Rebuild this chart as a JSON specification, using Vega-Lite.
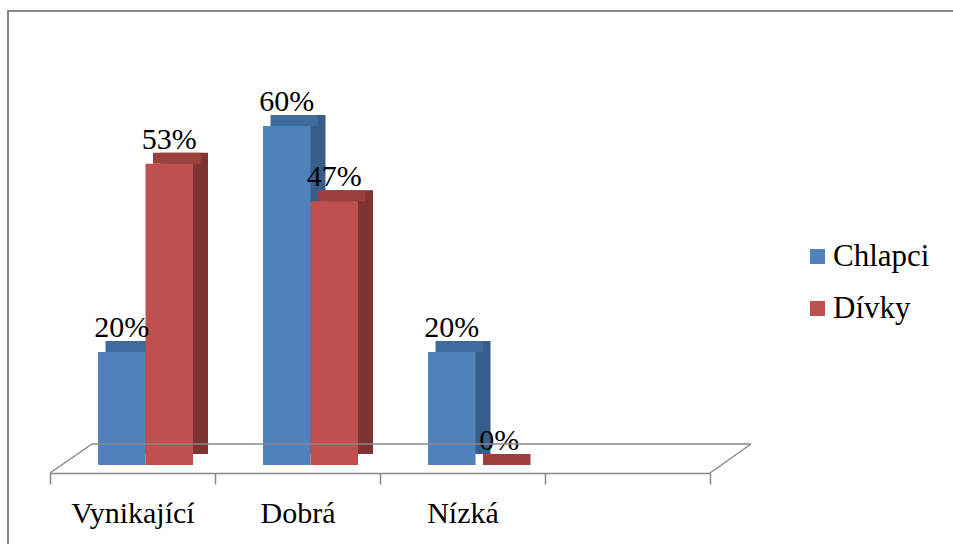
{
  "$schema": "https://vega.github.io/schema/vega-lite/v6.json",
  "width": 950,
  "height": 540,
  "autosize": {"type": "none"},
  "padding": {"left": 8, "top": 11, "right": 0, "bottom": 0},
  "background": "white",
  "config": {
    "view": {"stroke": "#898989", "strokeWidth": 2},
    "axisX": {
      "title": null, "orient": "bottom", "offset": -78, "grid": false,
      "domainColor": "#898989", "domainWidth": 1.5,
      "tickColor": "#898989", "tickWidth": 1.5, "tickSize": 11, "tickBand": "extent",
      "labelFont": "Liberation Serif", "labelFontSize": 30, "labelColor": "black",
      "labelPadding": 14, "labelAngle": 0
    }
  },
  "data": {"values": [
    {"kategorie": "Vynikající", "pohlavi": "Chlapci", "podil": 0.2},
    {"kategorie": "Vynikající", "pohlavi": "Dívky", "podil": 0.533},
    {"kategorie": "Dobrá", "pohlavi": "Chlapci", "podil": 0.6},
    {"kategorie": "Dobrá", "pohlavi": "Dívky", "podil": 0.467},
    {"kategorie": "Nízká", "pohlavi": "Chlapci", "podil": 0.2},
    {"kategorie": "Nízká", "pohlavi": "Dívky", "podil": 0}
  ]},
  "layer": [
    {
      "encoding": {
        "x": {
          "field": "kategorie", "type": "nominal", "sort": null,
          "scale": {"domain": ["Vynikající", "Dobrá", "Nízká", " "], "range": [42, 702], "paddingInner": 0, "paddingOuter": 0}
        },
        "y": {
          "field": "podil", "type": "quantitative", "stack": null,
          "scale": {"domain": [0, 0.8], "range": [454, 2]},
          "axis": null
        }
      },
      "resolve": {"scale": {"xOffset": "independent"}},
      "layer": [
        {
          "mark": {"type": "bar", "yOffset": -11, "y2Offset": -11},
          "encoding": {
            "xOffset": {"field": "pohlavi", "type": "nominal",
              "scale": {"domain": ["Chlapci", "Dívky"], "paddingInner": 0, "paddingOuter": 0.737, "align": 0.9}},
            "y2": {"datum": 0},
            "fill": {"condition": {"test": "datum.pohlavi === 'Chlapci'", "value": "#385D8A"}, "value": "#7D3432"}
          }
        },
        {
          "mark": {"type": "bar", "yOffset": -11},
          "encoding": {
            "xOffset": {"field": "pohlavi", "type": "nominal",
              "scale": {"domain": ["Chlapci", "Dívky"], "paddingInner": 0, "paddingOuter": 0.737, "align": 0.793}},
            "y2": {"field": "podil"},
            "fill": {"condition": {"test": "datum.pohlavi === 'Chlapci'", "value": "#3E6A9C"}, "value": "#9C403D"}
          }
        },
        {
          "mark": {"type": "bar"},
          "encoding": {
            "xOffset": {"field": "pohlavi", "type": "nominal",
              "scale": {"domain": ["Chlapci", "Dívky"], "paddingInner": 0, "paddingOuter": 0.737, "align": 0.686}},
            "color": {
              "field": "pohlavi", "type": "nominal",
              "scale": {"domain": ["Chlapci", "Dívky"], "range": ["#4F81BD", "#C0504D"]},
              "legend": {
                "title": null, "orient": "none", "legendX": 794, "legendY": 230, "padding": 0,
                "symbolType": "square", "symbolSize": 225, "symbolStrokeWidth": 0,
                "labelFont": "Liberation Serif", "labelFontSize": 31, "labelColor": "black",
                "rowPadding": 20, "labelOffset": 0
              }
            }
          }
        },
        {
          "mark": {"type": "text", "yOffset": -15, "fontSize": 30, "font": "Liberation Serif", "color": "black", "baseline": "alphabetic"},
          "encoding": {
            "xOffset": {"field": "pohlavi", "type": "nominal",
              "scale": {"type": "band", "domain": ["Chlapci", "Dívky"], "paddingInner": 0, "paddingOuter": 0.737, "align": 0.686}},
            "text": {"field": "podil", "type": "quantitative", "format": ".0%"}
          }
        }
      ]
    },
    {
      "data": {"values": [{}]},
      "mark": {"type": "rule", "color": "#898989", "strokeWidth": 1.5, "xOffset": 42, "x2Offset": 41, "yOffset": -21},
      "encoding": {
        "x": {"datum": "Vynikající", "type": "nominal", "bandPosition": 0},
        "x2": {"datum": " ", "bandPosition": 1},
        "y": {"datum": 0, "type": "quantitative", "axis": null}
      }
    },
    {
      "data": {"values": [{}]},
      "mark": {"type": "rule", "color": "#898989", "strokeWidth": 1.5, "xOffset": 0, "x2Offset": 42, "yOffset": 8, "y2Offset": -21},
      "encoding": {
        "x": {"datum": "Vynikající", "type": "nominal", "bandPosition": 0},
        "x2": {"datum": "Vynikající", "bandPosition": 0},
        "y": {"datum": 0, "type": "quantitative", "axis": null},
        "y2": {"datum": 0}
      }
    },
    {
      "data": {"values": [{}]},
      "mark": {"type": "rule", "color": "#898989", "strokeWidth": 1.5, "xOffset": 0, "x2Offset": 41, "yOffset": 8, "y2Offset": -21},
      "encoding": {
        "x": {"datum": " ", "type": "nominal", "bandPosition": 1},
        "x2": {"datum": " ", "bandPosition": 1},
        "y": {"datum": 0, "type": "quantitative", "axis": null},
        "y2": {"datum": 0}
      }
    }
  ]
}
